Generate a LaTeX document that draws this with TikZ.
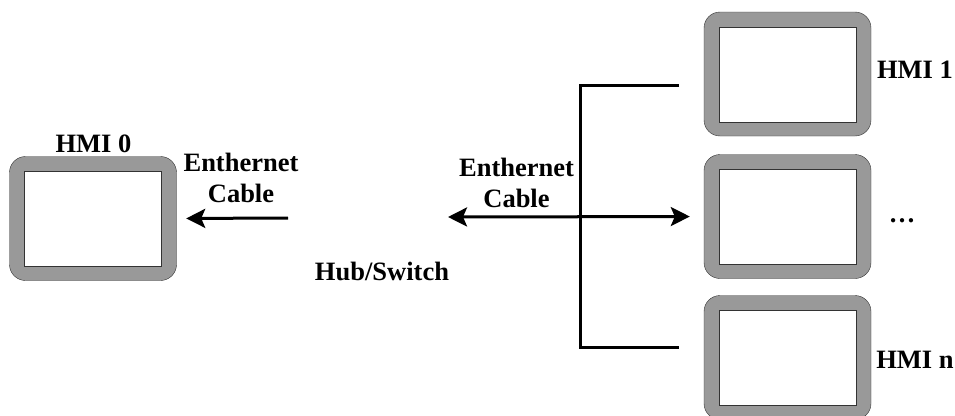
\documentclass[tikz,border=0pt]{standalone}
\usepackage{fontspec}
\setmainfont{Liberation Serif}
\usetikzlibrary{arrows.meta}

\tikzset{
  screen/.style={draw=black!80, fill=black!40, rounded corners=16pt,
    minimum width=167pt, minimum height=124pt, inner sep=0pt,
    path picture={\draw[fill=white, sharp corners]
      ([shift={(15pt,-15pt)}]path picture bounding box.north west) rectangle
      ([shift={(-15pt,14pt)}]path picture bounding box.south east);}},
  txt/.style={font=\bfseries\fontsize{26.5}{31}\selectfont, inner sep=0pt, align=center},
  wire/.style={line width=3pt},
  cable/.style={wire, -{Stealth[length=19pt,width=19pt,inset=4pt]}}
}

\begin{document}
\begin{tikzpicture}[x=1pt, y=-1pt]
\useasboundingbox (0,0) rectangle (955,415);
\clip (0,0) rectangle (955,415);

% screens
\node[screen] (hmi0) at (93,218.5) {};
\node[screen] (hmi1) at (787.5,74) {};
\node[screen] (hmidots) at (787.5,216.5) {};
\node[screen] (hmin) at (787.5,357.5) {};

% names
\node[txt, anchor=base] (name0) at (93.5,152) {HMI 0};
\node[txt, anchor=base] (name1) at (915,78) {HMI 1};
\node[txt, anchor=base] (namedots) at (902,222) {\dots};
\node[txt, anchor=base] (namen) at (915,368) {HMI n};
\node[txt, anchor=base] (switch) at (382,280) {Hub/Switch};
\node[txt, anchor=south] (cable0) at (241,203) {Enthernet\\Cable};
\node[txt, anchor=south] (cable1) at (516.5,208) {Enthernet\\Cable};

% cables
\coordinate (hub0) at (288,218);
\coordinate (hub1) at (448,217);
\coordinate (bus) at (580,217);
\coordinate (tap1) at (679,85);
\coordinate (tapn) at (679,347);

\draw[cable, shorten >=9.5pt] (hub0) -- (hmi0.east);
\draw[wire, line join=miter] (tap1) -- (tap1 -| bus) -- (tapn -| bus) -- (tapn);
\draw[wire, {Stealth[length=19pt,width=19pt,inset=4pt]}-{Stealth[length=19pt,width=19pt,inset=4pt]}, shorten >=14pt] (hub1) -- (hmidots.west);
\end{tikzpicture}
\end{document}
